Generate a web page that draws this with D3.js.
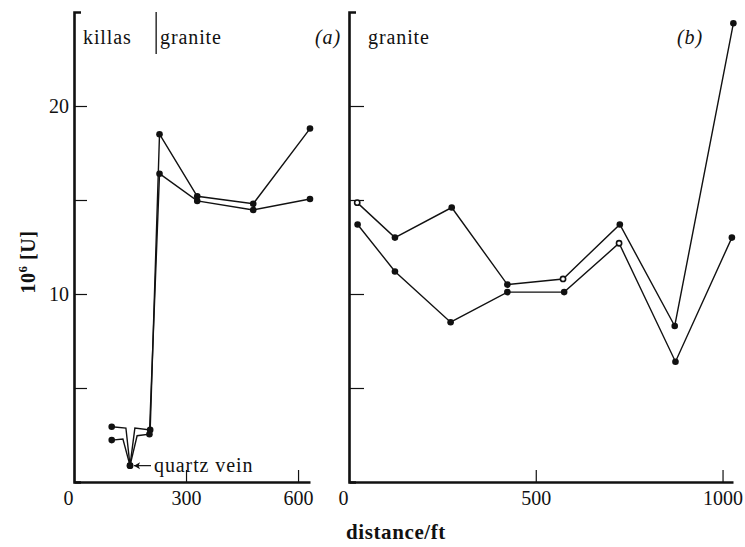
<!DOCTYPE html>
<html>
<head>
<meta charset="utf-8">
<script src="https://cdn.jsdelivr.net/npm/d3@7"></script>
<style>
  body { margin: 0; background: #fff; }
  svg { display: block; }
  text { font-family: "Liberation Serif", "Times New Roman", serif; }
  .axis path, .axis line { stroke: #111; }
  .axis path { stroke-width: 2.6; }
  .axis line { stroke-width: 1.2; }
  .axis text { font-size: 20px; fill: #111; font-family: "Liberation Serif", serif; }
</style>
</head>
<body>
<svg id="chart" width="745" height="547"></svg>
<script>
// panel (a): killas / granite traverse
const aDistUpper = [101, 139, 150, 163, 204, 229, 330, 480, 632];
const aValUpper  = [2.94, 2.87, 0.87, 2.87, 2.77, 18.5, 15.2, 14.8, 18.8];
const aMarkUpper = ["f", "", "f", "", "f", "f", "f", "f", "f"];

const aDistLower = [101, 131, 150, 169, 202, 229, 330, 480, 632];
const aValLower  = [2.23, 2.29, 0.87, 2.46, 2.54, 16.4, 14.95, 14.47, 15.05];
const aMarkLower = ["f", "", "f", "", "f", "f", "f", "f", "f"];

// panel (b): granite traverse
const bDistUpper = [22, 123, 275, 424, 573, 725, 872, 1029];
const bValUpper  = [14.86, 13.0, 14.6, 10.5, 10.8, 13.7, 8.3, 24.4];
const bMarkUpper = ["o", "f", "f", "f", "o", "f", "f", "f"];

const bDistLower = [23, 123, 272, 424, 576, 723, 874, 1025];
const bValLower  = [13.7, 11.2, 8.5, 10.1, 10.1, 12.7, 6.4, 13.0];
const bMarkLower = ["f", "f", "f", "f", "f", "o", "f", "f"];

const yTicks = [5, 10, 15, 20];
const yTickLabels = {10: "10", 20: "20"};
const aXTicks = [0, 300, 600];
const bXTicks = [0, 500, 1000];

const graniteContact = 220;   // ft, killas | granite boundary in (a)
const veinDist = 150;
const veinVal = 0.87;

function makeSeries(dist, val, mark) {
  return dist.map(function(d, i) { return {x: d, y: val[i], m: mark[i]}; });
}

const svg = d3.select("#chart");
const serif = "'Liberation Serif', 'Times New Roman', serif";

const y = d3.scaleLinear().domain([0, 25]).range([482, 12]);

const panels = [
  {
    x: d3.scaleLinear().domain([0, 632]).range([74, 310]),
    ticks: aXTicks,
    labelled: true,
    series: [makeSeries(aDistUpper, aValUpper, aMarkUpper), makeSeries(aDistLower, aValLower, aMarkLower)]
  },
  {
    x: d3.scaleLinear().domain([0, 1028]).range([349, 733]),
    ticks: bXTicks,
    labelled: false,
    series: [makeSeries(bDistUpper, bValUpper, bMarkUpper), makeSeries(bDistLower, bValLower, bMarkLower)]
  }
];

panels.forEach(function(p) {
  const g = svg.append("g");

  // x axis, ticks pointing inward
  g.append("g")
    .attr("class", "axis")
    .attr("transform", "translate(0," + y(0) + ")")
    .call(d3.axisBottom(p.x).tickValues(p.ticks).tickFormat(d3.format("d"))
      .tickSize(-12).tickSizeOuter(0).tickPadding(9))
    .attr("font-family", serif)
    .selectAll(".tick text")
    .attr("dx", function(d) { return d == 0 ? -6 : 0; });

  // y axis
  g.append("g")
    .attr("class", "axis")
    .attr("transform", "translate(" + p.x(0) + ",0)")
    .call(d3.axisLeft(y).tickValues(yTicks).tickSize(p.labelled ? -13 : -15).tickSizeOuter(-7).tickPadding(5)
      .tickFormat(function(d) { return p.labelled ? (yTickLabels[d] || "") : ""; }))
    .attr("font-family", serif);

  const line = d3.line()
    .x(function(d) { return p.x(d.x); })
    .y(function(d) { return y(d.y); });

  p.series.forEach(function(s) {
    g.append("path")
      .datum(s)
      .attr("d", line)
      .attr("fill", "none")
      .attr("stroke", "#111")
      .attr("stroke-width", 1.4)
      .attr("stroke-linejoin", "miter");

    g.selectAll(null)
      .data(s.filter(function(d) { return d.m; }))
      .enter()
      .append("circle")
      .attr("cx", function(d) { return p.x(d.x); })
      .attr("cy", function(d) { return y(d.y); })
      .attr("r", function(d) { return d.m == "o" ? 2.6 : 3.3; })
      .attr("fill", function(d) { return d.m == "o" ? "#fff" : "#111"; })
      .attr("stroke", "#111")
      .attr("stroke-width", function(d) { return d.m == "o" ? 1.6 : 0; });
  });
});

const xa = panels[0].x;

// killas | granite contact
svg.append("line")
  .attr("x1", xa(graniteContact)).attr("x2", xa(graniteContact))
  .attr("y1", 12).attr("y2", 54)
  .attr("stroke", "#111").attr("stroke-width", 1.3);

const labelStyle = function(t) {
  return t.attr("font-size", 20).attr("fill", "#111")
    .attr("font-family", serif)
    .style("letter-spacing", "0.9px");
};

svg.append("text").attr("x", 83).attr("y", 44).text("killas").call(labelStyle);
svg.append("text").attr("x", 160).attr("y", 44).text("granite").call(labelStyle);
svg.append("text").attr("x", 368).attr("y", 44).text("granite").call(labelStyle);
svg.append("text").attr("x", 315).attr("y", 44).text("(a)").call(labelStyle).attr("font-style", "italic");
svg.append("text").attr("x", 677).attr("y", 44).text("(b)").call(labelStyle).attr("font-style", "italic");

// quartz vein annotation
const vx = xa(veinDist), vy = y(veinVal);
svg.append("line")
  .attr("x1", vx + 4).attr("x2", vx + 21)
  .attr("y1", vy).attr("y2", vy)
  .attr("stroke", "#111").attr("stroke-width", 1.2);
svg.append("path")
  .attr("d", "M" + (vx + 4) + "," + vy + "l6,-3.5l-1.5,3.5l1.5,3.5z")
  .attr("fill", "#111");
svg.append("text").attr("x", vx + 24).attr("y", vy + 6).text("quartz vein").call(labelStyle);

// axis titles
svg.append("text")
  .attr("transform", "translate(35,262) rotate(-90)")
  .attr("text-anchor", "middle")
  .attr("font-family", serif)
  .attr("font-size", 20).attr("font-weight", "bold").attr("fill", "#111")
  .style("letter-spacing", "0.5px")
  .html("10<tspan font-size='13' dy='-8'>6</tspan><tspan dy='8'> [U]</tspan>");

svg.append("text")
  .attr("x", 396).attr("y", 539)
  .attr("text-anchor", "middle")
  .attr("font-family", serif)
  .attr("font-size", 21).attr("font-weight", "bold").attr("fill", "#111")
  .style("letter-spacing", "0.6px")
  .text("distance/ft");
</script>
</body>
</html>
